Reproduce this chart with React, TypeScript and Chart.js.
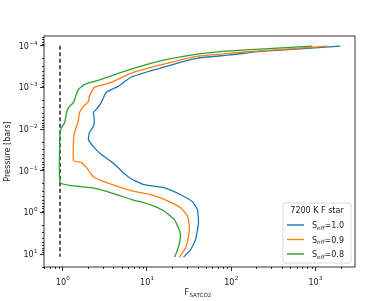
import React, { useEffect, useRef } from "react";
import { Chart, registerables } from "chart.js";
Chart.register(...registerables);

// S_eff = 1.0 (blue)
const seff10X = [1980, 219, 97.4, 39.8, 15.8, 6.47, 4.56, 3.29, 2.875, 2.511, 2.315, 2.379, 2.315, 2.078, 2.022, 2.315, 2.875, 3.77, 4.56, 5.21, 6.47, 9.23, 15.8, 25.1, 34.8, 39.8, 41.0, 37.7, 32.9, 27.2];
const seff10P = [1.02e-4, 1.36e-4, 1.65e-4, 1.98e-4, 3.26e-4, 5.67e-4, 9.36e-4, 1.3e-3, 2.27e-3, 3.35e-3, 3.96e-3, 5.84e-3, 8.6e-3, 0.012, 0.0177, 0.0261, 0.0407, 0.06, 0.0838, 0.11, 0.155, 0.215, 0.254, 0.374, 0.552, 0.861, 1.77, 4.55, 7.92, 11.7];

// S_eff = 0.9 (orange)
const seff09X = [1385, 219, 97.4, 39.8, 15.8, 6.47, 3.77, 2.379, 2.078, 2.022, 1.766, 1.585, 1.543, 1.461, 1.384, 1.347, 1.347, 1.673, 1.916, 2.315, 2.875, 4.09, 6.47, 11.1, 17.6, 25.1, 30.3, 32.0, 31.1, 28.7, 24.4];
const seff09P = [1.02e-4, 1.32e-4, 1.5e-4, 1.77e-4, 2.76e-4, 4.55e-4, 7.5e-4, 9.9e-4, 1.63e-3, 2.15e-3, 2.84e-3, 3.96e-3, 5.84e-3, 8.6e-3, 0.012, 0.0177, 0.0568, 0.0634, 0.0838, 0.138, 0.172, 0.221, 0.3, 0.374, 0.523, 0.77, 1.2, 2.21, 3.85, 7.1, 11.7];

// S_eff = 0.8 (green)
const seff08X = [921, 219, 97.4, 39.8, 15.8, 6.47, 2.875, 1.815, 1.543, 1.422, 1.347, 1.176, 1.115, 1.056, 0.973, 0.93, 0.93, 1.276, 2.193, 4.09, 6.47, 11.1, 15.8, 20.8, 23.1, 25.1, 24.4, 23.1, 21.3];
const seff08P = [1.02e-4, 1.2e-4, 1.32e-4, 1.58e-4, 2.21e-4, 3.64e-4, 6.34e-4, 8.4e-4, 1.1e-3, 1.63e-3, 2.27e-3, 3.0e-3, 3.96e-3, 6.9e-3, 9.1e-3, 0.0114, 0.192, 0.227, 0.254, 0.355, 0.481, 0.652, 0.91, 1.42, 2.09, 3.44, 5.37, 7.92, 11.7];

// dashed reference line
const refX = [0.93, 0.93];
const refP = [1.0e-4, 11.5];

const seriesValues = ["1.0", "0.9", "0.8"];
const seriesColors = ["#1f77b4", "#ff7f0e", "#2ca02c"];
const legendTitle = "7200 K F star";

const xTickValues = [1, 10, 100, 1000];
const xTickExps = ["0", "1", "2", "3"];
const yTickValues = [1e-4, 1e-3, 1e-2, 1e-1, 1, 10];
const yTickExps = ["\u22124", "\u22123", "\u22122", "\u22121", "0", "1"];

const FONT = "DejaVu Sans";
const TXT = "#222";

const pts = (xs: number[], ps: number[]) => xs.map((x, i) => ({ x, y: ps[i] }));

const decorPlugin = {
  id: "decor",
  afterDraw(chart: any) {
    const { ctx, chartArea, scales } = chart;
    const { left, right, top, bottom } = chartArea;
    const xs = scales.x;
    const ys = scales.y;
    ctx.save();
    // frame
    ctx.strokeStyle = "#000";
    ctx.lineWidth = 0.8;
    ctx.strokeRect(left, top, right - left, bottom - top);
    // minor ticks
    for (let e = -1; e <= 3; e++) {
      for (let k = 2; k <= 9; k++) {
        const v = k * Math.pow(10, e);
        if (v < xs.min || v > xs.max) continue;
        const px = Math.round(xs.getPixelForValue(v)) + 0.5;
        ctx.beginPath();
        ctx.moveTo(px, bottom);
        ctx.lineTo(px, bottom + 2);
        ctx.stroke();
      }
    }
    for (let e = -5; e <= 1; e++) {
      for (let k = 2; k <= 9; k++) {
        const v = k * Math.pow(10, e);
        if (v < ys.min || v > ys.max) continue;
        const py = Math.round(ys.getPixelForValue(v)) + 0.5;
        ctx.beginPath();
        ctx.moveTo(left, py);
        ctx.lineTo(left - 2, py);
        ctx.stroke();
      }
    }
    // tick labels (10 with superscript exponent)
    ctx.fillStyle = TXT;
    ctx.textAlign = "left";
    ctx.textBaseline = "alphabetic";
    ctx.font = `8px ${FONT}`;
    const w10 = ctx.measureText("10").width;
    xTickValues.forEach((v, i) => {
      const px = xs.getPixelForValue(v);
      ctx.font = `5.6px ${FONT}`;
      const ws = ctx.measureText(xTickExps[i]).width;
      const x0 = px - (w10 + ws) / 2;
      ctx.font = `8px ${FONT}`;
      ctx.fillText("10", x0, 284.5);
      ctx.font = `5.6px ${FONT}`;
      ctx.fillText(xTickExps[i], x0 + w10 + 0.3, 280.2);
    });
    yTickValues.forEach((v, i) => {
      const py = ys.getPixelForValue(v);
      ctx.font = `5.6px ${FONT}`;
      const ws = ctx.measureText(yTickExps[i]).width;
      const x0 = 37.5 - ws - w10 - 0.3;
      ctx.font = `8px ${FONT}`;
      ctx.fillText("10", x0, py + 2.8);
      ctx.font = `5.6px ${FONT}`;
      ctx.fillText(yTickExps[i], x0 + w10 + 0.3, py - 1.3);
    });
    // x title F_SATCO2
    ctx.font = `8px ${FONT}`;
    ctx.fillText("F", 184.5, 295.3);
    const fW = ctx.measureText("F").width;
    ctx.font = `5.6px ${FONT}`;
    ctx.fillText("SATCO2", 184.5 + fW + 0.3, 297);
    // y title
    ctx.save();
    ctx.translate(8, (top + bottom) / 2);
    ctx.rotate(-Math.PI / 2);
    ctx.textAlign = "center";
    ctx.textBaseline = "middle";
    ctx.font = `8px ${FONT}`;
    ctx.fillText("Pressure [bars]", 0, 0);
    ctx.restore();
    // legend
    const lx = 283, ly = 203, lw = 68, lh = 60;
    ctx.beginPath();
    const r = 2;
    ctx.moveTo(lx + r, ly);
    ctx.lineTo(lx + lw - r, ly);
    ctx.quadraticCurveTo(lx + lw, ly, lx + lw, ly + r);
    ctx.lineTo(lx + lw, ly + lh - r);
    ctx.quadraticCurveTo(lx + lw, ly + lh, lx + lw - r, ly + lh);
    ctx.lineTo(lx + r, ly + lh);
    ctx.quadraticCurveTo(lx, ly + lh, lx, ly + lh - r);
    ctx.lineTo(lx, ly + r);
    ctx.quadraticCurveTo(lx, ly, lx + r, ly);
    ctx.closePath();
    ctx.fillStyle = "rgba(255,255,255,0.8)";
    ctx.fill();
    ctx.strokeStyle = "#d0d0d0";
    ctx.lineWidth = 0.8;
    ctx.stroke();
    ctx.fillStyle = TXT;
    ctx.font = `8px ${FONT}`;
    ctx.textAlign = "center";
    ctx.textBaseline = "middle";
    ctx.fillText(legendTitle, lx + lw / 2, 211);
    const rowY = [225, 239.5, 254];
    seriesValues.forEach((val, i) => {
      const y = rowY[i];
      ctx.strokeStyle = seriesColors[i];
      ctx.lineWidth = 1.4;
      ctx.beginPath();
      ctx.moveTo(287, y);
      ctx.lineTo(304, y);
      ctx.stroke();
      ctx.fillStyle = TXT;
      ctx.textAlign = "left";
      ctx.textBaseline = "alphabetic";
      ctx.font = `8px ${FONT}`;
      ctx.fillText("S", 312, y + 3);
      const sw = ctx.measureText("S").width;
      ctx.font = `italic 5.6px ${FONT}`;
      ctx.fillText("eff", 312 + sw, y + 4.5);
      const ew = ctx.measureText("eff").width;
      ctx.font = `8px ${FONT}`;
      ctx.fillText("=" + val, 312 + sw + ew, y + 3);
    });
    ctx.restore();
  },
};

export default function App() {
  const ref = useRef<HTMLCanvasElement>(null);
  useEffect(() => {
    if (!ref.current) return;
    const lineBase = { showLine: true, pointRadius: 0, borderWidth: 1.3, tension: 0.15, fill: false };
    const chart = new Chart(ref.current, {
      type: "scatter",
      data: {
        datasets: [
          { ...lineBase, label: "ref", data: pts(refX, refP), borderColor: "#000", borderDash: [4, 2.5], tension: 0, order: 4 },
          { ...lineBase, label: "Seff=" + seriesValues[0], data: pts(seff10X, seff10P), borderColor: seriesColors[0], order: 3 },
          { ...lineBase, label: "Seff=" + seriesValues[1], data: pts(seff09X, seff09P), borderColor: seriesColors[1], order: 2 },
          { ...lineBase, label: "Seff=" + seriesValues[2], data: pts(seff08X, seff08P), borderColor: seriesColors[2], order: 1 },
        ],
      } as any,
      options: {
        responsive: false,
        animation: false,
        layout: { padding: { top: 36, right: 34, left: 0, bottom: 0 } },
        plugins: { legend: { display: false }, tooltip: { enabled: false } },
        scales: {
          x: {
            type: "logarithmic",
            min: 0.63,
            max: 2955,
            afterFit: (s: any) => { s.height = 34; },
            afterBuildTicks: (s: any) => { s.ticks = xTickValues.map((v) => ({ value: v, major: true })); },
            ticks: { display: false, autoSkip: false },
            grid: { drawOnChartArea: false, drawTicks: true, tickLength: 4, color: "#000", lineWidth: 0.8 },
            border: { display: false },
          },
          y: {
            type: "logarithmic",
            reverse: true,
            min: 5.8e-5,
            max: 20.3,
            afterFit: (s: any) => { s.width = 44; },
            afterBuildTicks: (s: any) => { s.ticks = yTickValues.map((v) => ({ value: v, major: true })); },
            ticks: { display: false, autoSkip: false },
            grid: { drawOnChartArea: false, drawTicks: true, tickLength: 4, color: "#000", lineWidth: 0.8 },
            border: { display: false },
          },
        },
      } as any,
      plugins: [decorPlugin],
    });
    return () => chart.destroy();
  }, []);
  return (
    <div style={{ position: "absolute", left: 0, top: 0, width: 389, height: 301, background: "#fff" }}>
      <canvas ref={ref} width={389} height={301} style={{ display: "block", width: 389, height: 301 }} />
    </div>
  );
}
